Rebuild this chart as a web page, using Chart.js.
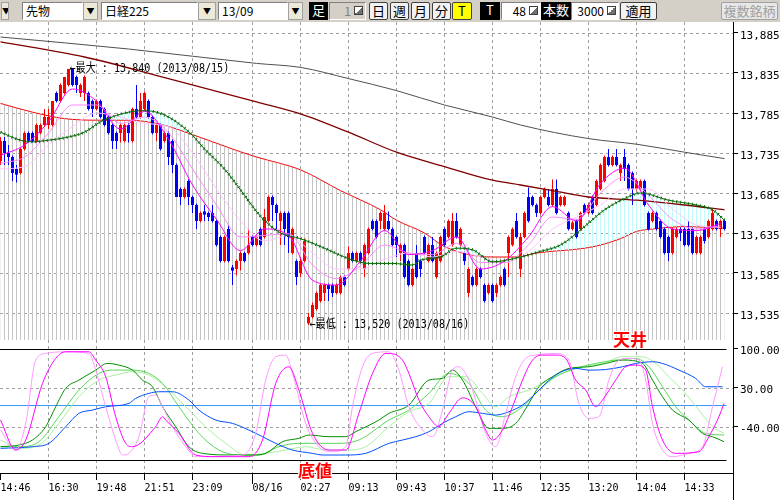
<!DOCTYPE html>
<html lang="ja">
<head>
  <meta charset="UTF-8">
  <title>先物 日経225 13/09</title>
  <script src="https://cdn.jsdelivr.net/npm/chart.js"></script>
  <style>
    body {
      margin: 0;
      width: 780px;
      height: 500px;
      position: relative;
      overflow: hidden;
      background: #fff;
      font-family: 'Noto Sans CJK JP', sans-serif;
    }
    .toolbar { position: absolute; left: 0; top: 0; width: 780px; height: 22px; background: #d4d0c8; }
    .tb {
      position: absolute; top: 2px; height: 18px; box-sizing: border-box;
      font-size: 12px; line-height: 16px; white-space: nowrap; overflow: hidden; color: #000;
    }
    .box { background: #fff; border: 1px solid; border-color: #808080 #fff #fff #808080; padding-left: 3px; }
    .box.grey { background: #d4d0c8; color: #808080; }
    .num { text-align: right; padding-right: 14px; }
    .dd { background: #ece9d8; border: 1px solid #a0a0a0; text-align: center; font-size: 8px; }
    .dark { background: #000; color: #fff; text-align: center; font-size: 13px; }
    .btn { background: #f2f2f2; border: 1px solid #404040; border-radius: 2px; text-align: center; font-size: 13px; }
    .dis { color: #a0a0a0; border-color: #a0a0a0; background: #e8e8e8; }
    .spin {
      position: absolute; right: 2px; top: 3px; width: 9px; height: 9px; box-sizing: border-box;
      border: 1px solid #404040; background: linear-gradient(135deg, #fff 50%, #707070 50%);
    }
    #main { position: absolute; left: 0; top: 22px; }
    #osc { position: absolute; left: 0; top: 340px; }
    .mark {
      position: absolute; font-size: 17px; line-height: 17px; font-weight: bold; color: #ff0000;
      text-shadow: 1px 1px 0 #fff, -1px -1px 0 #fff, 1px -1px 0 #fff, -1px 1px 0 #fff, 0 0 3px #fff;
    }
  </style>
</head>
<body>
  <div class="toolbar">
    <div class="tb dd" style="left:1px;width:8px;">▼</div>
    <div class="tb box" style="left:22px;width:61px;">先物</div>
    <div class="tb dd" style="left:83px;width:15px;">▼</div>
    <div class="tb box" style="left:101px;width:97px;">日経225</div>
    <div class="tb dd" style="left:198px;width:18px;">▼</div>
    <div class="tb box" style="left:218px;width:70px;">13/09</div>
    <div class="tb dd" style="left:288px;width:15px;">▼</div>
    <div class="tb dark" style="left:309px;width:19px;">足</div>
    <div class="tb box grey num" style="left:329px;width:37px;">1<span class="spin"></span></div>
    <div class="tb btn" style="left:369px;width:19px;">日</div>
    <div class="tb btn" style="left:390px;width:19px;">週</div>
    <div class="tb btn" style="left:411px;width:19px;">月</div>
    <div class="tb btn" style="left:432px;width:19px;">分</div>
    <div class="tb btn" style="left:452px;width:20px;background:#ffff00;">T</div>
    <div class="tb dark" style="left:480px;width:20px;">T</div>
    <div class="tb box num" style="left:501px;width:40px;">48<span class="spin"></span></div>
    <div class="tb dark" style="left:541px;width:30px;">本数</div>
    <div class="tb box num" style="left:571px;width:48px;">3000<span class="spin"></span></div>
    <div class="tb btn" style="left:620px;width:37px;">適用</div>
    <div class="tb btn dis" style="left:721px;width:57px;">複数銘柄</div>
  </div>

  <canvas id="main" width="780" height="318"></canvas>
  <canvas id="osc" width="780" height="160"></canvas>
  <div class="mark" style="left:613px;top:330px;">天井</div>
  <div class="mark" style="left:298px;top:461px;">底値</div>

  <script>
    // axis ticks
    const priceTicks = [13535, 13585, 13635, 13685, 13735, 13785, 13835, 13885];
    const oscTicks = [100, 30, -40];
    const oscBands = [100, 0, -100];
    const timeTickIdx = [0, 12, 24, 36, 48, 63, 75, 87, 99, 111, 123, 135, 147, 159, 171];
    const timeTickLabels = ['14:46', '16:30', '19:48', '21:51', '23:09', '08/16', '02:27', '09:13', '09:43', '10:37', '11:46', '12:35', '13:20', '14:04', '14:33'];

    // 48 tick bars (OHLC)
    const opens = [13725,13750,13735,13730,13715,13710,13740,13760,13760,13750, 13760,13770,13770,13770,13810,13800,13810,13820,13840,13830,
      13810,13810,13810,13800,13790,13800,13790,13780,13770,13760, 13760,13750,13770,13750,13790,13780,13790,13800,13780,13760,
      13770,13750,13760,13750,13720,13690,13680,13700,13680,13670, 13650,13662,13660,13660,13650,13630,13600,13640,13592,13590,
      13600,13610,13610,13630,13620,13640,13630,13650,13680,13670, 13650,13660,13660,13610,13600,13585,13600,13522,13530,13540,
      13550,13560,13570,13570,13560,13560,13580,13590,13610,13600, 13610,13590,13610,13650,13650,13650,13640,13650,13640,13630,
      13610,13620,13600,13570,13610,13600,13630,13600,13620,13580, 13600,13640,13630,13620,13650,13620,13610,13560,13580,13570,
      13590,13570,13560,13570,13560,13570,13590,13610,13620,13650, 13590,13630,13680,13680,13670,13660,13680,13680,13670,13690,
      13670,13670,13660,13640,13650,13640,13670,13660,13680,13670, 13690,13700,13730,13720,13730,13710,13730,13720,13710,13690,
      13690,13700,13660,13650,13660,13650,13640,13630,13610,13630, 13640,13640,13640,13640,13610,13610,13640,13630,13640,13650,
      13640,13650];
    const highs = [13755,13755,13745,13732,13720,13742,13762,13762,13762,13772, 13772,13790,13790,13800,13812,13822,13830,13840,13840,13832,
      13822,13832,13812,13802,13802,13802,13792,13782,13772,13762, 13772,13772,13772,13792,13820,13810,13812,13802,13782,13772,
      13772,13762,13762,13752,13722,13692,13692,13702,13682,13672, 13662,13670,13662,13670,13652,13632,13632,13645,13595,13602,
      13612,13612,13640,13632,13632,13642,13665,13682,13682,13672, 13662,13662,13662,13642,13602,13605,13628,13535,13548,13562,
      13572,13572,13572,13572,13572,13582,13582,13618,13612,13612, 13612,13622,13642,13652,13652,13662,13670,13662,13642,13632,
      13622,13622,13602,13592,13620,13602,13632,13622,13630,13612, 13632,13642,13652,13660,13660,13642,13612,13592,13582,13592,
      13592,13572,13572,13572,13572,13582,13592,13632,13642,13660, 13635,13662,13692,13682,13672,13682,13692,13690,13702,13702,
      13682,13682,13662,13650,13652,13662,13672,13672,13682,13702, 13722,13732,13740,13732,13740,13722,13740,13722,13712,13702,
      13702,13702,13662,13662,13662,13652,13642,13632,13642,13642, 13642,13642,13650,13642,13632,13632,13642,13652,13665,13652,
      13652,13652];
    const lows = [13720,13720,13720,13700,13698,13708,13738,13748,13748,13748, 13758,13768,13765,13768,13798,13798,13808,13818,13818,13810,
      13805,13800,13788,13780,13788,13778,13768,13758,13740,13740, 13748,13748,13748,13748,13778,13778,13788,13778,13758,13750,
      13738,13748,13720,13710,13680,13670,13678,13670,13660,13640, 13648,13650,13650,13648,13618,13598,13598,13598,13570,13582,
      13588,13598,13608,13618,13618,13618,13628,13648,13650,13640, 13620,13620,13610,13608,13570,13580,13598,13520,13528,13538,
      13548,13550,13550,13555,13558,13558,13568,13588,13598,13598, 13598,13580,13608,13638,13628,13640,13638,13638,13618,13605,
      13600,13578,13568,13568,13578,13580,13608,13598,13598,13578, 13598,13618,13628,13618,13628,13618,13595,13555,13568,13568,
      13578,13548,13558,13548,13555,13568,13568,13580,13618,13628, 13580,13628,13648,13668,13655,13658,13678,13668,13668,13658,
      13668,13668,13638,13638,13628,13638,13658,13658,13658,13668, 13688,13698,13718,13718,13718,13700,13700,13688,13670,13688,
      13688,13668,13638,13648,13638,13628,13608,13600,13608,13628, 13625,13618,13618,13608,13608,13608,13622,13628,13638,13638,
      13630,13638];
    const closes = [13750,13735,13730,13710,13708,13740,13760,13750,13750,13770, 13770,13780,13780,13800,13800,13820,13830,13840,13820,13820,
      13820,13830,13790,13790,13800,13780,13770,13760,13750,13750, 13770,13770,13760,13790,13780,13800,13810,13780,13760,13770,
      13740,13760,13730,13720,13680,13680,13690,13680,13670,13650, 13660,13658,13655,13650,13620,13600,13630,13600,13588,13600,
      13610,13600,13620,13620,13630,13620,13655,13680,13670,13660, 13660,13640,13630,13640,13580,13600,13625,13530,13545,13560,
      13570,13570,13565,13560,13570,13580,13570,13610,13600,13610, 13600,13620,13640,13640,13630,13660,13660,13640,13620,13620,
      13620,13580,13570,13590,13580,13590,13610,13620,13600,13610, 13630,13620,13650,13650,13630,13640,13600,13590,13570,13590,
      13580,13550,13570,13550,13570,13580,13570,13630,13640,13630, 13630,13660,13650,13670,13660,13680,13690,13670,13690,13660,
      13680,13680,13640,13648,13630,13660,13660,13670,13660,13700, 13720,13730,13720,13730,13720,13720,13715,13690,13690,13700,
      13700,13670,13640,13660,13640,13630,13610,13610,13640,13640, 13635,13620,13620,13610,13630,13630,13625,13650,13660,13640,
      13650,13640];

    // moving averages, [bar index, price]
    const maGrey = [[0,13880],[32,13865],[64,13847],[75,13842],[87,13828],[99,13813],[111,13795],[123,13780],[130,13770],[147,13753],[159,13746],[171,13736],[181,13728]];
    const maDarkRed = [[0,13874],[21,13855],[42,13828],[64,13799],[75,13784],[87,13761],[99,13736],[111,13718],[123,13701],[130,13695],[138,13688],[147,13680],[159,13676],[171,13670],[181,13664]];
    const maRed = [[0,13797],[8,13786],[16,13778],[24,13776],[32,13776],[40,13771],[48,13758],[58,13740],[64,13730],[75,13714],[85,13688],[95,13664],[99,13651],[106,13635],[111,13618],[123,13605],[129,13605],[134,13610],[146,13616],[150,13620],[155,13628],[159,13637],[163,13640],[171,13643],[181,13641]];
    const maGreen = [[0,13761],[5,13751],[8,13749],[12,13751],[16,13754],[21,13761],[25,13774],[29,13782],[32,13786],[36,13788],[39,13786],[42,13780],[45,13770],[48,13757],[51,13740],[56,13715],[60,13689],[65,13656],[70,13635],[75,13628],[81,13616],[87,13603],[92,13597],[98,13597],[103,13595],[105,13601],[110,13605],[114,13616],[118,13614],[123,13599],[130,13605],[135,13612],[140,13620],[146,13643],[151,13664],[156,13678],[160,13685],[167,13676],[174,13670],[178,13664],[181,13651]];
    const ribbonFast = [[0,13732],[6,13745],[12,13774],[18,13815],[24,13800],[30,13765],[36,13787],[42,13752],[48,13695],[54,13652],[60,13613],[66,13640],[72,13632],[78,13576],[84,13570],[90,13600],[96,13638],[102,13608],[108,13613],[114,13630],[120,13590],[126,13600],[132,13630],[138,13668],[144,13650],[150,13697],[156,13716],[162,13670],[168,13640],[174,13638],[180,13647]];
    const ribbonMid = [[0,13722],[6,13730],[12,13760],[18,13795],[24,13795],[30,13772],[36,13780],[42,13760],[48,13715],[54,13670],[60,13630],[66,13632],[72,13634],[78,13595],[84,13578],[90,13594],[96,13620],[102,13610],[108,13608],[114,13622],[120,13598],[126,13598],[132,13620],[138,13655],[144,13652],[150,13685],[156,13705],[162,13682],[168,13652],[174,13640],[180,13644]];
    const ribbonSlow = [[0,13715],[6,13718],[12,13745],[18,13768],[24,13785],[30,13780],[36,13772],[42,13768],[48,13735],[54,13690],[60,13650],[66,13625],[72,13632],[78,13610],[84,13590],[90,13590],[96,13602],[102,13610],[108,13605],[114,13612],[120,13605],[126,13598],[132,13612],[138,13640],[144,13655],[150,13670],[156,13690],[162,13690],[168,13665],[174,13645],[180,13642]];

    // oscillator lines, [bar index, value]
    const oscMagenta = [[0,-28],[3.8,-82],[6.3,-64],[10.5,38],[13.8,83],[16.3,95],[22.1,95],[23.8,80],[26.3,50],[28.8,-22],[31.3,-70],[33,-76],[38.8,-40],[40.5,-22],[41.3,-28],[44.6,-52],[48.8,-91],[53.8,-94],[62.1,-94],[65.5,-64],[68.8,38],[72.1,68],[74.6,26],[78,-52],[82.1,-82],[86.3,-82],[89.6,-16],[93,56],[96.3,92],[97.1,92],[100.5,80],[102.1,56],[104.6,8],[107.1,-22],[109.6,-40],[112.1,-16],[115.5,12],[118.8,-4],[121.3,-46],[123,-64],[125.5,-46],[128,-4],[130.5,44],[133,80],[135.5,89],[138.8,89],[141.3,83],[143.8,44],[146.3,26],[148.8,-4],[150.5,8],[153.8,44],[156.3,68],[158.8,71],[161.3,62],[163,-4],[165.5,-64],[168.8,-88],[174.6,-85],[177.1,-58],[179.6,-22],[180.9,2]];
    const oscPink = [[0,-46],[3.8,-82],[6.3,-34],[8.8,80],[11.3,92],[16.3,95],[22.1,92],[23.8,62],[26.3,-4],[28.8,-64],[30.5,-91],[32.1,-88],[34.6,-58],[37.1,14],[38.8,17],[40.5,-4],[43,-40],[46.3,-76],[48.8,-94],[60.5,-91],[63.8,-52],[66.3,44],[68.8,86],[71.3,89],[73,56],[76.3,-34],[79.6,-76],[83,-85],[86.3,-76],[88,-4],[90.5,68],[93,92],[97.1,95],[99.6,62],[102.1,-4],[105.5,-46],[108,-58],[110.5,-10],[113,62],[114.6,68],[117.1,44],[118.8,8],[121.3,-52],[123.8,-76],[126.3,-16],[128.8,50],[131.3,83],[133.8,89],[138.8,92],[142.1,80],[144.6,2],[147.1,-25],[149.6,-22],[152.1,44],[154.6,80],[157.1,83],[159.6,80],[161.3,44],[163,-34],[165.5,-82],[168,-94],[172.1,-88],[175.5,-76],[178,-4],[180.5,68]];
    const oscGreenDark = [[0,-76],[4.6,-73],[8,-64],[11.3,-40],[13.8,-4],[16.3,29],[19.6,44],[23.8,62],[26.7,74],[29.6,71],[33,62],[35.5,44],[38,32],[40.5,-4],[43.8,-40],[47.1,-76],[50.5,-88],[58,-91],[63,-91],[66.3,-88],[70.5,-67],[74.6,-61],[77.1,-55],[82.1,-58],[86.3,-58],[88.8,-49],[94.6,-28],[97.1,-16],[102.1,-1],[107.1,44],[110.5,47],[113,62],[115.5,44],[118.8,-4],[122.1,-43],[125.5,-43],[128.8,-34],[132.1,2],[134.6,32],[138,50],[142.1,65],[147.1,68],[151.3,74],[155.5,80],[160.5,74],[163,44],[165.5,14],[168,-10],[172.1,-28],[175.5,-52],[178,-58],[180.9,-67]];
    const oscGreenMid = [[0,-76],[4.6,-76],[9.6,-67],[14.6,-22],[19.6,26],[24.6,56],[28,62],[33,62],[37.1,56],[40.5,38],[44.6,-4],[49.6,-52],[54.6,-82],[59.6,-91],[64.6,-91],[69.6,-76],[74.6,-70],[79.6,-70],[84.6,-70],[89.6,-64],[97.1,-28],[102.1,-10],[107.1,20],[112.1,56],[117.1,38],[121.3,-10],[125.5,-22],[130.5,-4],[134.6,26],[138.8,50],[143.8,65],[148.8,74],[153.8,80],[158.8,83],[162.1,68],[165.5,32],[168.8,-4],[172.1,-28],[176.3,-52],[180.9,-55]];
    const oscGreenLight = [[0,-64],[4.6,-79],[9.6,-73],[14.6,-34],[19.6,14],[24.6,44],[28.8,53],[33,59],[37.1,53],[41.3,32],[46.3,-4],[51.3,-40],[56.3,-70],[61.3,-91],[66.3,-88],[71.3,-82],[76.3,-76],[81.3,-82],[86.3,-82],[91.3,-76],[97.1,-40],[102.1,-13],[107.1,2],[112.1,50],[116.3,50],[120.5,20],[123.8,-4],[127.1,14],[132.1,26],[135.5,38],[140.5,56],[145.5,68],[150.5,74],[155.5,86],[160.5,86],[163.8,74],[167.1,50],[170.5,26],[174.6,-10],[178,-40],[180.9,-52]];
    const oscBlue = [[0,-79],[8,-76],[12.1,-70],[16.3,-40],[19.6,-16],[23,-10],[26.3,-4],[32.1,2],[33.8,11],[37.1,20],[39.6,23],[43,23],[47.1,8],[49.6,-10],[53.8,-28],[58,-34],[62.1,-46],[65.5,-58],[68.8,-70],[73,-82],[78,-88],[80.5,-91],[86.3,-91],[91.3,-88],[97.1,-70],[100.5,-64],[103.8,-58],[107.1,-49],[110.5,-34],[113.8,-22],[117.1,-13],[120.5,-16],[123.8,-19],[127.1,-13],[130.5,-1],[133.8,20],[136.3,38],[138.8,53],[141.3,62],[143.8,65],[147.1,62],[151.3,63],[155.5,68],[158.8,74],[163,77],[165.5,74],[169.6,62],[173.8,47],[176.3,32],[180.5,32]];

    const extremes = [
      { idx: 17, value: 13840, text: '←最大 : 13,840 (2013/08/15)' },
      { idx: 77, value: 13520, text: '←最低 : 13,520 (2013/08/16)' }
    ];

    // 4px per bar, bar i centred on 4i + 0.5
    const xMin = -0.125, xMax = 183.125;
    const pts = arr => arr.map(([x, y]) => ({ x, y }));

    function hatch(color) {
      const c = document.createElement('canvas');
      c.width = 4; c.height = 1;
      const g = c.getContext('2d');
      g.fillStyle = color;
      g.fillRect(0, 0, 1, 1);
      return g.createPattern(c, 'repeat');
    }

    function line(data, color, width, order, extra) {
      return Object.assign({
        type: 'line', data: pts(data), borderColor: color, borderWidth: width,
        pointRadius: 0, cubicInterpolationMode: 'monotone', fill: false, order: order
      }, extra || {});
    }

    const candleColors = closes.map((c, i) => c >= opens[i] ? '#ff0000' : '#0000ff');

    const mainGrid = {
      id: 'mainGrid',
      beforeDatasetsDraw(chart) {
        const { ctx, chartArea: a, scales: { x, y } } = chart;
        ctx.save();
        ctx.strokeStyle = '#a0a0a0';
        ctx.lineWidth = 1;
        ctx.setLineDash([3, 3]);
        ctx.beginPath();
        priceTicks.forEach(v => {
          const py = Math.round(y.getPixelForValue(v)) + 0.5;
          ctx.moveTo(a.left, py); ctx.lineTo(a.right, py);
        });
        timeTickIdx.slice(1).forEach(i => {
          const px = Math.floor(x.getPixelForValue(i)) + 0.5;
          ctx.moveTo(px, a.top); ctx.lineTo(px, a.bottom);
        });
        ctx.stroke();
        ctx.restore();
      },
      afterDatasetsDraw(chart) {
        const { ctx, scales: { x, y } } = chart;
        ctx.save();
        ctx.fillStyle = '#000';
        ctx.font = '12px "DejaVu Sans Mono", "Noto Sans CJK JP", monospace';
        ctx.textBaseline = 'middle';
        extremes.forEach(e => {
          ctx.save();
          ctx.translate(x.getPixelForValue(e.idx) + 1, y.getPixelForValue(e.value));
          ctx.scale(0.84, 1);
          ctx.fillText(e.text, 0, 0);
          ctx.restore();
        });
        ctx.restore();
      }
    };

    const oscGrid = {
      id: 'oscGrid',
      beforeDatasetsDraw(chart) {
        const { ctx, chartArea: a, scales: { x, y } } = chart;
        const endX = x.getPixelForValue(opens.length - 0.5);
        ctx.save();
        ctx.lineWidth = 1;
        ctx.strokeStyle = '#a0a0a0';
        ctx.setLineDash([3, 3]);
        ctx.beginPath();
        oscTicks.filter(v => !oscBands.includes(v)).forEach(v => {
          const py = Math.round(y.getPixelForValue(v)) + 0.5;
          ctx.moveTo(a.left, py); ctx.lineTo(a.right, py);
        });
        timeTickIdx.slice(1).forEach(i => {
          const px = Math.floor(x.getPixelForValue(i)) + 0.5;
          ctx.moveTo(px, a.top); ctx.lineTo(px, a.bottom);
        });
        ctx.stroke();
        ctx.setLineDash([]);
        oscBands.forEach(v => {
          const py = Math.round(y.getPixelForValue(v)) + 0.5;
          ctx.strokeStyle = v === 0 ? '#3399ff' : '#000';
          ctx.beginPath(); ctx.moveTo(a.left, py); ctx.lineTo(endX, py); ctx.stroke();
        });
        ctx.restore();
      },
      afterDraw(chart) {
        const { ctx, chartArea: a, scales: { x } } = chart;
        ctx.save();
        ctx.strokeStyle = '#000';
        ctx.lineWidth = 1;
        ctx.beginPath();
        ctx.moveTo(a.right + 0.5, a.bottom); ctx.lineTo(a.right + 0.5, chart.height);
        timeTickLabels.forEach((t, k) => {
          if (t.includes('/')) {
            const px = Math.floor(x.getPixelForValue(timeTickIdx[k])) + 0.5;
            ctx.moveTo(px, a.bottom); ctx.lineTo(px, a.bottom + 11);
          }
        });
        ctx.stroke();
        ctx.restore();
      }
    };

    const monoFont = { family: '"DejaVu Sans Mono", monospace', size: 11 };

    new Chart(document.getElementById('main'), {
      data: {
        datasets: [
          line(maRed, '#ff0000', 1, 20, { fill: 'start', backgroundColor: hatch('#c4c4c4') }),
          line(maGreen, 'rgba(0,0,0,0)', 0, 19, { fill: { target: 0, above: hatch('#c4fafa'), below: 'rgba(0,0,0,0)' } }),
          {
            type: 'bar', data: opens.map((o, i) => ({ x: i, y: [lows[i], highs[i]] })),
            backgroundColor: candleColors, barThickness: 1, grouped: false, inflateAmount: 0, order: 10
          },
          {
            type: 'bar', data: opens.map((o, i) => ({ x: i, y: [o, closes[i]] })),
            backgroundColor: candleColors, barThickness: 3, grouped: false, inflateAmount: 0, order: 9
          },
          line(maGrey, '#505050', 1, 8),
          line(maDarkRed, '#800000', 1.3, 7),
          line(ribbonSlow, '#ffc4ff', 1, 6),
          line(ribbonMid, '#ff88ff', 1, 5),
          line(ribbonFast, '#ff00ff', 1, 4),
          line(maGreen, '#006400', 1, 3),
          line(maGreen, '#107010', 3, 2, { borderDash: [1, 3] })
        ]
      },
      options: {
        responsive: false, animation: false, devicePixelRatio: 1,
        layout: { padding: 0 },
        plugins: { legend: { display: false }, tooltip: { enabled: false } },
        scales: {
          x: { type: 'linear', min: xMin, max: xMax, offset: false, display: false },
          y: {
            position: 'right', min: 13501.25, max: 13898.75,
            afterBuildTicks: s => { s.ticks = priceTicks.map(v => ({ value: v })); },
            afterFit: s => { s.width = 47; s.paddingTop = 0; s.paddingBottom = 0; },
            grid: { drawOnChartArea: false, color: '#000', tickLength: 5 },
            border: { color: '#000' },
            ticks: { color: '#000', padding: 2, labelOffset: 3, font: monoFont, callback: v => v.toLocaleString('en-US') }
          }
        }
      },
      plugins: [mainGrid]
    });

    new Chart(document.getElementById('osc'), {
      data: {
        datasets: [
          line(oscGreenLight, '#a8f0a0', 1, 9),
          line(oscGreenMid, '#5ad85a', 1, 8),
          line(oscGreenDark, '#009000', 1, 7),
          line(oscBlue, '#0050ff', 1, 6),
          line(oscPink, '#ff99ff', 1, 5),
          line(oscMagenta, '#ff00ff', 1, 4)
        ]
      },
      options: {
        responsive: false, animation: false, devicePixelRatio: 1,
        layout: { padding: 0 },
        plugins: { legend: { display: false }, tooltip: { enabled: false } },
        scales: {
          x: {
            type: 'linear', position: 'bottom', min: xMin, max: xMax, offset: false,
            afterBuildTicks: s => { s.ticks = timeTickIdx.map(v => ({ value: v })); },
            afterFit: s => { s.height = 27; s.paddingLeft = 0; s.paddingRight = 0; },
            grid: { drawOnChartArea: false, color: '#000', tickLength: 7 },
            border: { color: '#000' },
            ticks: {
              color: '#000', align: 'start', padding: 2, maxRotation: 0, autoSkip: false,
              font: { family: '"DejaVu Sans Mono", monospace', size: 10 },
              callback: v => timeTickLabels[timeTickIdx.indexOf(v)]
            }
          },
          y: {
            position: 'right', min: -123.4, max: 116.2,
            afterBuildTicks: s => { s.ticks = oscTicks.map(v => ({ value: v })); },
            afterFit: s => { s.width = 47; s.paddingTop = 0; s.paddingBottom = 0; },
            grid: { drawOnChartArea: false, color: '#000', tickLength: 5 },
            border: { color: '#000' },
            ticks: { color: '#000', padding: 2, labelOffset: 2, font: monoFont, callback: v => v.toFixed(2) }
          }
        }
      },
      plugins: [oscGrid]
    });
  </script>
</body>
</html>
